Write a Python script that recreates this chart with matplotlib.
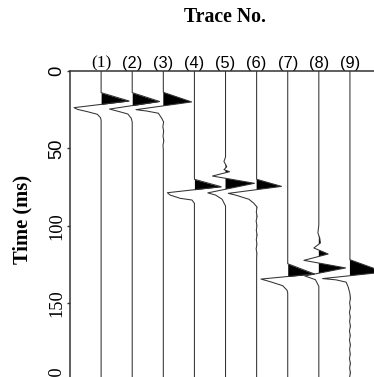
import numpy as np
import matplotlib
matplotlib.use('Agg')
import matplotlib.pyplot as plt

# trace positions and labels
trace_no = [1, 2, 3, 4, 5, 6, 7, 8, 9]
trace_labels = ['(1)', '(2)', '(3)', '(4)', '(5)', '(6)', '(7)', '(8)', '(9)']
y_ticks = [0, 50, 100, 150, 200]
y_tick_labels = ['0', '50', '100', '150', '200']

# samples of each trace: time (ms) and amplitude (trace spacing units)
ms_1 = [14.0, 19.4, 23.7, 24.8, 26.3, 28.0, 30.2, 31.7]
amp_1 = [0, 0.90, -0.87, -0.76, -0.44, -0.12, -0.02, 0]
ms_2 = [14.0, 19.7, 24.6, 26.3, 27.8, 30.6, 33.0]
amp_2 = [0, 0.88, -0.73, -0.41, -0.14, -0.03, 0]
ms_3 = [13.8, 20.0, 25.0, 25.9, 27.3, 30.6, 33.0, 36.0, 39.0, 42.0, 45.0, 48.0, 51.0]
amp_3 = [0, 0.91, -0.88, -0.53, -0.16, -0.05, 0.01, -0.015, 0.01, -0.01, 0.015, -0.01, 0]
ms_4 = [70.0, 74.8, 78.7, 80.2, 82.3, 83.4, 85.5]
amp_4 = [0, 0.86, -0.87, -0.78, -0.46, -0.08, 0]
ms_5 = [55.6, 58.5, 61.9, 63.8, 65.1, 67.9, 72.6, 78.8, 80.2, 82.9, 87.3]
amp_5 = [0, -0.05, 0.04, -0.05, 0.13, -0.42, 0.93, -0.57, -0.32, -0.11, 0]
ms_6 = [70.0, 74.6, 79.1, 80.2, 82.9, 85.5, 88, 91, 94, 97, 100, 103, 106, 109, 112, 115, 118, 121]
amp_6 = [0, 0.80, -0.91, -0.68, -0.25, -0.09, 0.015, -0.01, 0.015, -0.015, 0.01, -0.01, 0.015, -0.01,
         0.01, -0.015, 0.01, 0]
ms_7 = [124.6, 131.2, 134.5, 136.4, 138.8, 141.8, 143.5]
amp_7 = [0, 0.86, -0.86, -0.53, -0.16, -0.02, 0]
ms_8 = [99.5, 104.7, 108.0, 111.2, 114.4, 118.3, 122.4, 127.3, 132.5, 134.9, 139.2]
amp_8 = [0, -0.03, 0.03, 0.05, -0.16, 0.30, -0.48, 0.86, -0.45, -0.11, 0]
ms_9 = [122.0, 130.0, 134.2, 135.0, 136.5, 140.0, 144.0, 147, 150, 153, 156, 159, 162, 165, 168,
        171, 174, 177, 180, 183, 186, 189, 192, 195, 198]
amp_9 = [0, 1.10, -0.88, -0.45, -0.12, -0.05, 0, 0.015, -0.01, 0.015, -0.015, 0.01, -0.01, 0.015,
         -0.015, 0.01, -0.015, 0.015, -0.01, 0.01, -0.015, 0.015, -0.01, 0.015, -0.01]

trace_ms = [ms_1, ms_2, ms_3, ms_4, ms_5, ms_6, ms_7, ms_8, ms_9]
trace_amp = [amp_1, amp_2, amp_3, amp_4, amp_5, amp_6, amp_7, amp_8, amp_9]

SERIF = 'Liberation Serif'
SANS = 'Liberation Sans'
EDGE = '#333333'

fig = plt.figure(figsize=(3.74, 3.77), dpi=100)
ax = fig.add_axes([0.1872, -0.009, 0.8316, 0.8207])

for x0, ms, amp in zip(trace_no, trace_ms, trace_amp):
    t = np.array([0.0] + ms + [200.0])
    a = np.array([0.0] + amp + [0.0])
    ax.fill_betweenx(t, x0, x0 + a, where=a > 0, interpolate=True, color='black', lw=0)
    ax.plot(x0 + a, t, color=EDGE, lw=0.75)

ax.set_xlim(0, 10)
ax.set_ylim(200, 0)

ax.xaxis.tick_top()
ax.set_xticks(trace_no)
ax.set_xticklabels(trace_labels)
ax.tick_params(axis='x', length=0, pad=0, labelsize=11.8)
for i, lab in enumerate(ax.get_xticklabels()):
    if i == 0:
        lab.set_fontfamily(SERIF)
        lab.set_fontsize(12.5)
    else:
        lab.set_fontfamily(SANS)

ax.set_yticks(y_ticks)
ax.set_yticklabels(y_tick_labels)
ax.tick_params(axis='y', direction='out', length=2.2, width=1, color=EDGE, pad=1, labelsize=13.2)
for lab in ax.get_yticklabels():
    lab.set_rotation(90)
    lab.set_va('center')
    if lab.get_text() in ('0', '50'):
        lab.set_fontfamily(SANS)
    else:
        lab.set_fontfamily(SERIF)

for side in ['right', 'bottom']:
    ax.spines[side].set_visible(False)
for side in ['left', 'top']:
    ax.spines[side].set_color(EDGE)
    ax.spines[side].set_linewidth(1.1)

fig.text(0.6029, 0.955, 'Trace No.', ha='center', va='center',
         fontfamily=SERIF, fontweight='bold', fontsize=14.3)
fig.text(22 / 374, 1 - 219 / 377, 'Time (ms)', ha='center', va='center', rotation=90,
         fontfamily=SERIF, fontweight='bold', fontsize=14.8)

fig.savefig('out.png', dpi=100)
